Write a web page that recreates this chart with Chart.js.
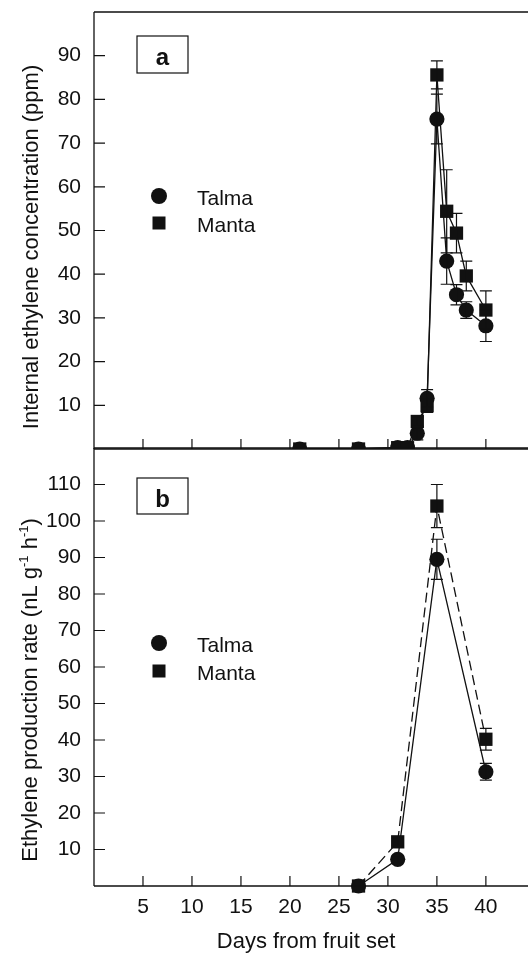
<!DOCTYPE html>
<html>
<head>
<meta charset="utf-8">
<script src="https://cdn.jsdelivr.net/npm/chart.js@4.4.0/dist/chart.umd.min.js"></script>
<style>
html,body{margin:0;padding:0;background:#fff;}
#wrap{position:relative;width:528px;height:962px;background:#fff;}
canvas{position:absolute;left:0;}
</style>
</head>
<body>
<div id="wrap">
<canvas id="c1" width="528" height="460" style="top:0px"></canvas>
<canvas id="c2" width="528" height="522" style="top:440px"></canvas>
</div>
<script>
// ---- data ----
const daysA     = [21, 27, 31, 32, 33, 34, 35, 36, 37, 38, 40];
const talmaA    = [0, 0, 0.3, 0.3, 3.6, 11.6, 75.5, 43.0, 35.3, 31.8, 28.2];
const talmaErrA = [0, 0, 0, 0, 1.5, 2.0, 5.7, 5.3, 2.3, 1.9, 3.6];
const mantaA    = [0, 0, 0.3, 0.3, 6.3, 9.9, 85.6, 54.4, 49.4, 39.6, 31.8];
const mantaErrA = [0, 0, 0, 0, 1.0, 1.5, 3.2, 9.5, 4.5, 3.4, 4.4];

const daysB     = [27, 31, 35, 40];
const talmaB    = [0, 7.3, 89.5, 31.3];
const talmaErrB = [0, 1.0, 5.5, 2.3];
const mantaB    = [0, 12.1, 104.1, 40.2];
const mantaErrB = [0, 1.0, 5.9, 3.0];

const xTickLabels = [5, 10, 15, 20, 25, 30, 35, 40];
const yTickLabelsA = [10, 20, 30, 40, 50, 60, 70, 80, 90];
const yTickLabelsB = [10, 20, 30, 40, 50, 60, 70, 80, 90, 100, 110];
const seriesNames = ['Talma', 'Manta'];
const xTitle = 'Days from fruit set';
const yTitleA = 'Internal ethylene concentration (ppm)';

const FONT = "'Liberation Sans', Arial, Helvetica, sans-serif";
const INK = '#111';

function pts(xs, ys) { return xs.map((x, i) => ({x: x, y: ys[i]})); }

const errorBars = {
  id: 'errorBars',
  afterDatasetsDraw(chart) {
    const ctx = chart.ctx, ys = chart.scales.y;
    ctx.save();
    ctx.strokeStyle = INK; ctx.lineWidth = 1.2; ctx.setLineDash([]);
    chart.data.datasets.forEach((ds, i) => {
      const meta = chart.getDatasetMeta(i);
      meta.data.forEach((el, j) => {
        const e = ds.err[j]; if (!e) return;
        const v = ds.data[j].y;
        const t = ys.getPixelForValue(v + e), b = ys.getPixelForValue(v - e);
        ctx.beginPath();
        ctx.moveTo(el.x, t); ctx.lineTo(el.x, b);
        ctx.moveTo(el.x - 6, t); ctx.lineTo(el.x + 6, t);
        ctx.moveTo(el.x - 6, b); ctx.lineTo(el.x + 6, b);
        ctx.stroke();
      });
    });
    ctx.restore();
  }
};

function framePlugin(cfg) {
  return {
    id: 'frame',
    afterDraw(chart) {
      const ctx = chart.ctx, a = chart.chartArea;
      const xs = chart.scales.x, ys = chart.scales.y;
      ctx.save();
      ctx.strokeStyle = INK; ctx.lineWidth = 1.3; ctx.setLineDash([]);
      ctx.beginPath();
      ctx.moveTo(a.left, a.top); ctx.lineTo(a.left, a.bottom);
      ctx.moveTo(a.left, a.bottom); ctx.lineTo(a.right, a.bottom);
      ctx.moveTo(a.left, a.top); ctx.lineTo(a.right, a.top);
      ctx.stroke();
      // inward tick marks
      ctx.lineWidth = 1.2;
      ctx.beginPath();
      xs.ticks.forEach(t => {
        if (xTickLabels.indexOf(t.value) < 0) return;
        const px = xs.getPixelForValue(t.value);
        ctx.moveTo(px, a.bottom); ctx.lineTo(px, a.bottom - 10);
      });
      ys.ticks.forEach(t => {
        if (cfg.yLabels.indexOf(t.value) < 0) return;
        const py = ys.getPixelForValue(t.value);
        ctx.moveTo(a.left, py); ctx.lineTo(a.left + 11, py);
      });
      ctx.stroke();
      // panel letter box
      ctx.lineWidth = 1.2;
      ctx.strokeRect(cfg.box[0], cfg.box[1], cfg.box[2], cfg.box[3]);
      ctx.fillStyle = INK;
      ctx.font = 'bold 24px ' + FONT;
      ctx.textAlign = 'center'; ctx.textBaseline = 'alphabetic';
      ctx.fillText(cfg.letter, cfg.box[0] + cfg.box[2] / 2, cfg.box[1] + 29);
      // legend
      const L = cfg.legend;
      ctx.beginPath(); ctx.arc(L.x, L.y1, 8, 0, Math.PI * 2); ctx.fill();
      ctx.fillRect(L.x - 6.5, L.y2 - 6.5, 13, 13);
      ctx.font = '21px ' + FONT; ctx.textAlign = 'left';
      ctx.fillText(seriesNames[0], L.tx, L.y1 + 9);
      ctx.fillText(seriesNames[1], L.tx, L.y2 + 9);
      // y title
      ctx.save();
      ctx.translate(cfg.yTitlePos[0], cfg.yTitlePos[1]);
      ctx.rotate(-Math.PI / 2);
      ctx.textBaseline = 'middle';
      const parts = cfg.yTitleParts;
      let total = 0;
      parts.forEach(p => { ctx.font = (p.sup ? '13px ' : '22px ') + FONT; p.w = ctx.measureText(p.t).width; total += p.w; });
      let x0 = -total / 2;
      parts.forEach(p => {
        ctx.font = (p.sup ? '13px ' : '22px ') + FONT;
        ctx.textAlign = 'left';
        ctx.fillText(p.t, x0, p.sup ? -7 : 0);
        x0 += p.w;
      });
      ctx.restore();
      // x title
      if (cfg.xTitlePos) {
        ctx.font = '22px ' + FONT; ctx.textAlign = 'center'; ctx.textBaseline = 'middle';
        ctx.fillText(xTitle, cfg.xTitlePos[0], cfg.xTitlePos[1]);
      }
      ctx.restore();
    }
  };
}

function makeChart(id, opts) {
  const datasets = [
    {label: seriesNames[1], data: pts(opts.days, opts.manta), err: opts.mantaErr,
     borderColor: INK, backgroundColor: INK, borderWidth: 1.3, borderDash: opts.mantaDash,
     pointStyle: 'rect', pointRadius: 9.4, pointHoverRadius: 9.4, pointBorderWidth: 0,
     showLine: true, tension: 0, clip: opts.clip},
    {label: seriesNames[0], data: pts(opts.days, opts.talma), err: opts.talmaErr,
     borderColor: INK, backgroundColor: INK, borderWidth: 1.3, borderDash: [],
     pointStyle: 'circle', pointRadius: 7.6, pointHoverRadius: 7.6, pointBorderWidth: 0,
     showLine: true, tension: 0, clip: opts.clip}
  ];
  return new Chart(document.getElementById(id), {
    type: 'scatter',
    data: {datasets: datasets},
    options: {
      responsive: false, animation: false, devicePixelRatio: 1,
      layout: {padding: opts.padding, autoPadding: false},
      plugins: {legend: {display: false}, tooltip: {enabled: false}},
      scales: {
        x: {
          type: 'linear', min: 0, max: 44.3,
          grid: {display: false, drawTicks: false}, border: {display: false},
          afterBuildTicks: s => { s.ticks = [0].concat(xTickLabels).map(v => ({value: v})); },
          ticks: {
            display: opts.showX, autoSkip: false, maxRotation: 0,
            color: INK, font: {family: FONT, size: 21}, padding: 9,
            callback: v => (xTickLabels.indexOf(v) >= 0 ? String(v) : '')
          },
          afterFit: s => { s.height = opts.xHeight; s.paddingLeft = 0; s.paddingRight = 0; s.paddingTop = 0; s.paddingBottom = 0; }
        },
        y: {
          type: 'linear', min: 0, max: opts.yMax,
          grid: {display: false, drawTicks: false}, border: {display: false},
          afterBuildTicks: s => { s.ticks = [0].concat(opts.yLabels).map(v => ({value: v})); },
          ticks: {
            autoSkip: false, color: INK, padding: 13,
            font: {family: FONT, size: 21},
            callback: v => (opts.yLabels.indexOf(v) >= 0 ? String(v) : '')
          },
          afterFit: s => { s.width = 94; s.paddingTop = 0; s.paddingBottom = 0; s.paddingLeft = 0; s.paddingRight = 0; }
        }
      }
    },
    plugins: [errorBars, framePlugin(opts)]
  });
}

const chartA = makeChart('c1', {
  days: daysA, talma: talmaA, talmaErr: talmaErrA, manta: mantaA, mantaErr: mantaErrA,
  mantaDash: [], clip: undefined,
  padding: {top: 12, bottom: 11, left: 0, right: 0},
  showX: false, xHeight: 0, yMax: 100, yLabels: yTickLabelsA,
  box: [137, 36, 51, 37], letter: 'a',
  legend: {x: 159, y1: 196, y2: 223, tx: 197},
  yTitlePos: [32, 247], yTitleParts: [{t: yTitleA}],
  xTitlePos: null
});

const chartB = makeChart('c2', {
  days: daysB, talma: talmaB, talmaErr: talmaErrB, manta: mantaB, mantaErr: mantaErrB,
  mantaDash: [10, 5], clip: false,
  padding: {top: 8, bottom: 0, left: 0, right: 0},
  showX: true, xHeight: 76, yMax: 120, yLabels: yTickLabelsB,
  box: [137, 38, 51, 36], letter: 'b',
  legend: {x: 159, y1: 203, y2: 231, tx: 197},
  yTitlePos: [31, 250],
  yTitleParts: [{t: 'Ethylene production rate (nL g'}, {t: '-1', sup: true}, {t: ' h'}, {t: '-1', sup: true}, {t: ')'}],
  xTitlePos: [306, 502]
});
</script>
</body>
</html>
